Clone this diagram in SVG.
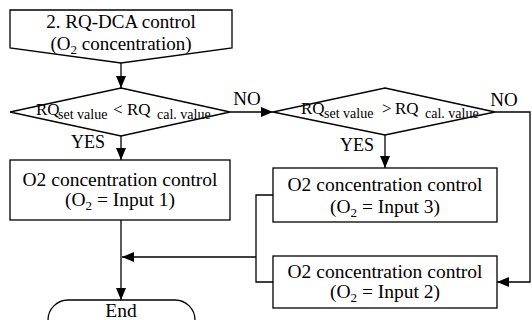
<svg xmlns="http://www.w3.org/2000/svg" width="532" height="320" viewBox="0 0 532 320">
<defs>
<marker id="arr" markerUnits="userSpaceOnUse" markerWidth="12" markerHeight="10" viewBox="0 0 12 10" refX="12" refY="5" orient="auto">
<path d="M0,0 L12,5 L0,10 Z" fill="#000"/>
</marker>
</defs>
<style>
.s{fill:#fff;stroke:#000;stroke-width:1.3}
.c{fill:none;stroke:#000;stroke-width:1.3}
</style>
<rect width="532" height="320" fill="#fff"/>
<g id="connectors">
<path class="c" d="M121,63 V88" marker-end="url(#arr)"/>
<path class="c" d="M230,112 H273" marker-end="url(#arr)"/>
<path class="c" d="M121,136 V160" marker-end="url(#arr)"/>
<path class="c" d="M385,135 V168" marker-end="url(#arr)"/>
<path class="c" d="M495,112 H530 V282 H497" marker-end="url(#arr)"/>
<path class="c" d="M273,195 H256 V282 H273"/>
<path class="c" d="M256,257 H122" marker-end="url(#arr)"/>
<path class="c" d="M121,220 V300" marker-end="url(#arr)"/>
</g>
<g font-family="Liberation Serif">
<g id="start">
<polygon class="s" points="10,10 232,10 232,48 121,63 10,48"/>
<text x="121" y="28" text-anchor="middle" font-size="19">2. RQ-DCA control</text>
<text x="121" y="50" text-anchor="middle" font-size="19">(O<tspan font-size="13" dy="4">2</tspan><tspan dy="-4"> concentration)</tspan></text>
</g>
<g id="decision1">
<polygon class="s" points="121,88 230,112 121,136 10,112"/>
<text y="115" font-size="17"><tspan x="36">RQ</tspan><tspan font-size="14" x="58" y="118.5">set value</tspan><tspan x="113" y="115">&lt;</tspan><tspan x="127">RQ</tspan><tspan font-size="14" x="157" y="118.5">cal. value</tspan></text>
<text x="88" y="148" text-anchor="middle" font-size="18">YES</text>
<text x="247" y="105" text-anchor="middle" font-size="19">NO</text>
</g>
<g id="decision2">
<polygon class="s" points="385,88 495,112 385,135 273,112"/>
<text y="114" font-size="17"><tspan x="301">RQ</tspan><tspan font-size="14" x="324" y="117.5">set value</tspan><tspan x="382" y="114">&gt;</tspan><tspan x="395">RQ</tspan><tspan font-size="14" x="425" y="117.5">cal. value</tspan></text>
<text x="357" y="151" text-anchor="middle" font-size="18">YES</text>
<text x="504" y="106" text-anchor="middle" font-size="19">NO</text>
</g>
<g id="box1">
<rect class="s" x="10" y="160" width="220" height="60"/>
<text x="120" y="186" text-anchor="middle" font-size="19.5">O2 concentration control</text>
<text x="120" y="206" text-anchor="middle" font-size="19.5">(O<tspan font-size="13" dy="4">2</tspan><tspan dy="-4"> = Input 1)</tspan></text>
</g>
<g id="box2">
<rect class="s" x="273" y="168" width="224" height="54"/>
<text x="385" y="191" text-anchor="middle" font-size="19.5">O2 concentration control</text>
<text x="385" y="213" text-anchor="middle" font-size="19.5">(O<tspan font-size="13" dy="4">2</tspan><tspan dy="-4"> = Input 3)</tspan></text>
</g>
<g id="box3">
<rect class="s" x="273" y="256" width="224" height="52"/>
<text x="385" y="278" text-anchor="middle" font-size="19.5">O2 concentration control</text>
<text x="385" y="298" text-anchor="middle" font-size="19.5">(O<tspan font-size="13" dy="4">2</tspan><tspan dy="-4"> = Input 2)</tspan></text>
</g>
<g id="end">
<rect class="s" x="48" y="300" width="147" height="40" rx="20" ry="20"/>
<text x="121" y="317" text-anchor="middle" font-size="19.5">End</text>
</g>
</g>
</svg>
